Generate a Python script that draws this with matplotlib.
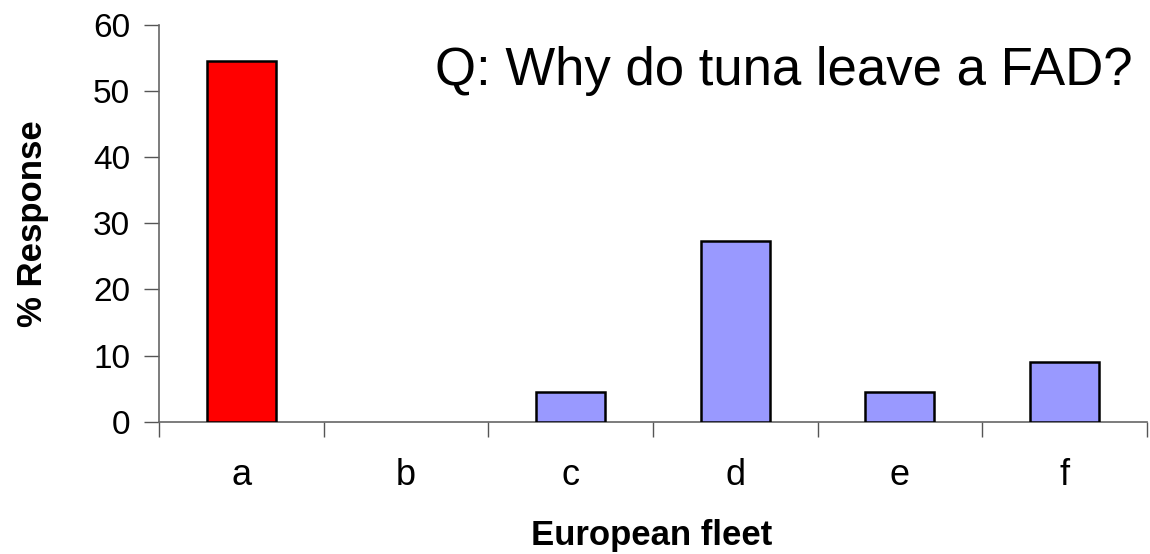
import matplotlib
matplotlib.use("Agg")
import matplotlib.pyplot as plt
import matplotlib.transforms as mtransforms
import numpy as np

categories = ["a", "b", "c", "d", "e", "f"]
values = [54.5, 0, 4.5, 27.3, 4.5, 9.1]
colors = ["#FF0000", "#9999FF", "#9999FF", "#9999FF", "#9999FF", "#9999FF"]
yticks = [0, 10, 20, 30, 40, 50, 60]

plt.rcParams['font.family'] = ['Liberation Sans', 'DejaVu Sans']

fig = plt.figure(figsize=(11.5, 5.54), dpi=100)
ax = fig.add_axes([0.1385, 0.2388, 0.9971 - 0.1385, 0.9549 - 0.2388])

x = np.arange(len(categories))
lws = [1.8 if v > 0 else 0 for v in values]
ax.bar(x, values, width=0.42, color=colors, edgecolor="black", linewidth=lws, zorder=3)

ax.set_xlim(-0.5, len(categories) - 0.5)
ax.set_ylim(0, 60)
ax.set_yticks(yticks)
ax.set_yticklabels([str(v) for v in yticks], fontsize=24)

ax.set_xticks(np.arange(-0.5, len(categories), 1.0))
ax.set_xticklabels([])
ax.tick_params(axis='x', which='major', length=11, width=1, color="#555555")
ax.tick_params(axis='y', length=11, width=1, color="#555555", pad=10)

trans = mtransforms.blended_transform_factory(ax.transData, ax.transAxes)
for i, c in enumerate(categories):
    ax.text(i, -0.1588, c, transform=trans, ha="center", va="baseline", fontsize=26)

for s in ["top", "right"]:
    ax.spines[s].set_visible(False)
for s in ["left", "bottom"]:
    ax.spines[s].set_color("#666666")
    ax.spines[s].set_linewidth(1.2)

fig.text(0.028, 0.5 * (0.9549 + 0.2388), "% Response", rotation=90, ha="center", va="center",
         fontsize=25, fontweight="bold")
fig.text(0.567, 0.0162, "European fleet", ha="center", va="baseline", fontsize=25, fontweight="bold")

fig.text(0.985, 0.8466, "Q: Why do tuna leave a FAD?", ha="right", va="baseline", fontsize=38)

fig.savefig("out.png", dpi=100)
